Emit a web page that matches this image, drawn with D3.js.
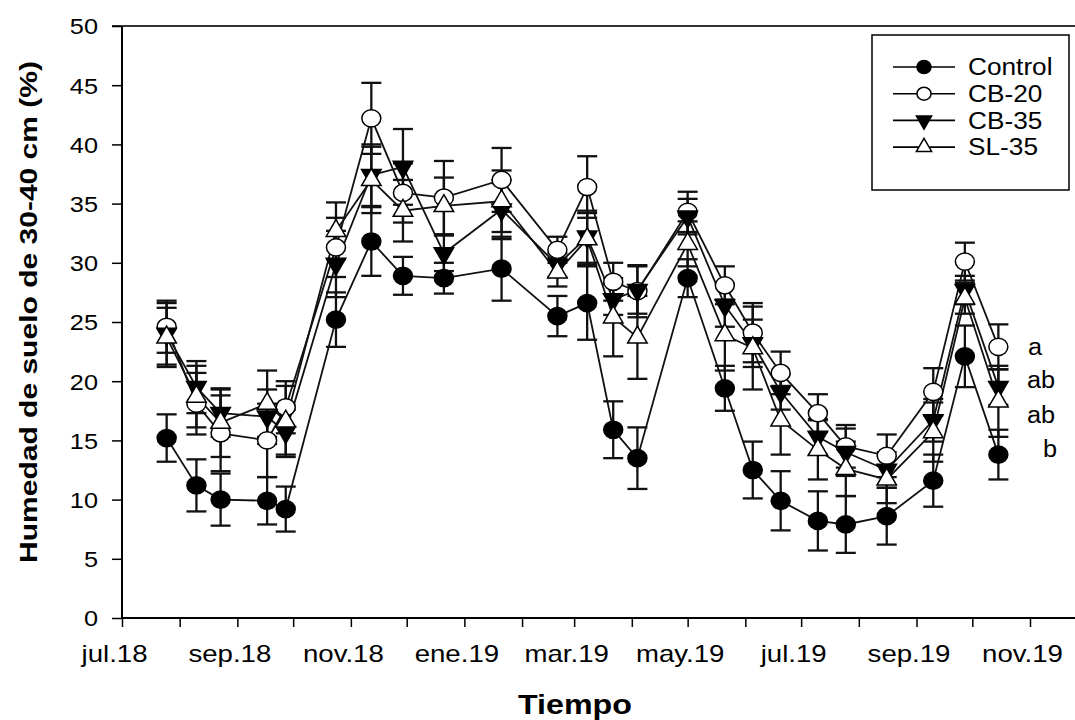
<!DOCTYPE html>
<html lang="es">
<head>
<meta charset="utf-8">
<title>Humedad de suelo 30-40 cm</title>
<script src="https://cdn.jsdelivr.net/npm/d3@7/dist/d3.min.js"></script>
<style>
  body { margin: 0; background: #fff; }
  svg text { font-family: Arial, "Liberation Sans", sans-serif; fill: #000; }
</style>
</head>
<body>
<svg id="chart" width="1075" height="720"></svg>
<script>
// fechas de muestreo
var dates = ["2018-07-25", "2018-08-10", "2018-08-23", "2018-09-17", "2018-09-27", "2018-10-24",
  "2018-11-12", "2018-11-29", "2018-12-21", "2019-01-21", "2019-02-20", "2019-03-08",
  "2019-03-22", "2019-04-04", "2019-05-01", "2019-05-21", "2019-06-05", "2019-06-20",
  "2019-07-10", "2019-07-25", "2019-08-16", "2019-09-10", "2019-09-27", "2019-10-15"];

var control = [15.2, 11.2, 10.0, 9.9, 9.2, 25.2, 31.8, 28.9, 28.7, 29.5, 25.5, 26.6,
  15.9, 13.5, 28.7, 19.4, 12.5, 9.9, 8.2, 7.9, 8.6, 11.6, 22.1, 13.8];
var cb20 = [24.6, 18.1, 15.6, 15.0, 17.8, 31.3, 42.2, 35.9, 35.5, 37.0, 31.1, 36.4,
  28.4, 27.6, 34.3, 28.1, 24.1, 20.7, 17.3, 14.5, 13.7, 19.1, 30.1, 22.9];
var cb35 = [24.0, 19.5, 17.3, 17.0, 15.7, 29.9, 37.4, 38.1, 30.8, 34.5, 29.8, 32.2,
  26.9, 27.7, 33.9, 26.4, 23.2, 19.1, 15.3, 14.0, 12.5, 16.7, 27.7, 19.5];
var sl35 = [23.7, 18.7, 16.5, 18.1, 16.6, 32.7, 37.0, 34.4, 34.8, 35.2, 29.2, 32.0,
  25.4, 23.7, 31.6, 23.9, 22.8, 16.7, 14.2, 12.6, 11.7, 15.7, 27.0, 18.3];

// error estandar
var controlErr = [2.0, 2.2, 2.2, 2.0, 1.9, 2.3, 2.9, 1.6, 1.3, 2.7, 1.7, 3.1,
  2.4, 2.6, 1.6, 1.9, 2.4, 2.5, 2.5, 2.4, 2.4, 2.2, 2.6, 2.1];
var cb20Err = [2.2, 2.6, 3.2, 3.1, 2.2, 2.5, 3.0, 2.5, 3.1, 2.7, 1.1, 2.6,
  1.6, 2.2, 1.7, 1.6, 2.5, 1.8, 1.6, 1.8, 1.8, 2.0, 1.6, 1.9];
var cb35Err = [2.6, 2.2, 2.0, 2.3, 1.9, 2.8, 2.6, 3.2, 1.5, 2.5, 1.0, 2.2,
  1.3, 2.0, 1.5, 1.8, 2.0, 1.5, 1.5, 2.0, 1.5, 1.8, 1.2, 1.5];
var sl35Err = [2.5, 2.6, 2.9, 2.8, 3.0, 2.4, 2.8, 2.6, 2.4, 2.6, 1.2, 2.2,
  3.3, 3.5, 1.9, 3.0, 3.5, 2.9, 2.5, 2.3, 2.0, 2.5, 1.3, 3.0];

var seriesNames = ["Control", "CB-20", "CB-35", "SL-35"];
var letters = ["a", "ab", "ab", "b"];
var yTicks = [0, 5, 10, 15, 20, 25, 30, 35, 40, 45, 50];
var monthNames = ["ene", "feb", "mar", "abr", "may", "jun", "jul", "ago", "sep", "oct", "nov", "dic"];

var svg = d3.select("#chart");
var parse = d3.timeParse("%Y-%m-%d");

// make text a bit wider, like the original picture
function stretch(sel, k) {
  sel.each(function() {
    var w = this.getComputedTextLength();
    d3.select(this).attr("textLength", w * k).attr("lengthAdjust", "spacingAndGlyphs");
  });
}

var x0 = parse("2018-07-01"), x1 = parse("2019-11-01");
var x = d3.scaleTime().domain([x0, x1]).range([122, 1030]);
var xEnd = x.invert(1076);
var y = d3.scaleLinear().domain([0, 50]).range([618, 26]);

// frame top line + axes
svg.append("line").attr("x1", 112).attr("x2", 1075).attr("y1", y(50)).attr("y2", y(50))
  .attr("stroke", "#333").attr("stroke-width", 2);

var yAxis = svg.append("g").attr("transform", "translate(122,0)")
  .call(d3.axisLeft(y).tickValues(yTicks).tickSize(10).tickFormat(d3.format("d")));
yAxis.select(".domain").attr("stroke-width", 2).attr("d", "M0," + y(0) + "V" + y(50));
yAxis.selectAll(".tick line").attr("stroke-width", 1.5);
yAxis.selectAll(".tick text").attr("x", -24).attr("dy", "0.36em")
  .style("font-size", "22px");
stretch(yAxis.selectAll(".tick text"), 1.15);

var months = d3.timeMonth.range(x0, xEnd);
var xAxis = svg.append("g").attr("transform", "translate(0," + y(0) + ")")
  .call(d3.axisBottom(x).tickValues(months).tickSize(9).tickFormat(function(d, i) {
    if (i % 2) return "";
    return monthNames[d.getMonth()] + "." + d3.timeFormat("%y")(d);
  }));
xAxis.select(".domain").attr("stroke-width", 2).attr("d", "M122,0H1075");
xAxis.selectAll(".tick line").attr("stroke-width", 1.5);
xAxis.selectAll(".tick text").attr("y", 27).attr("dx", -8).style("font-size", "24px");
stretch(xAxis.selectAll(".tick text"), 1.15);

// titles
svg.append("text").attr("x", 575).attr("y", 714).attr("text-anchor", "middle")
  .style("font-size", "28px").style("font-weight", "bold").text("Tiempo")
  .attr("textLength", 114).attr("lengthAdjust", "spacingAndGlyphs");
svg.append("text").attr("transform", "translate(37,312) rotate(-90)").attr("text-anchor", "middle")
  .style("font-size", "24px").style("font-weight", "bold")
  .text("Humedad de suelo de 30-40 cm (%)")
  .attr("textLength", 502).attr("lengthAdjust", "spacingAndGlyphs");

var parsed = dates.map(parse);
var series = [
  { name: seriesNames[0], vals: control, err: controlErr, shape: "circle", fill: "#000" },
  { name: seriesNames[1], vals: cb20, err: cb20Err, shape: "circle", fill: "#fff" },
  { name: seriesNames[2], vals: cb35, err: cb35Err, shape: "down", fill: "#000" },
  { name: seriesNames[3], vals: sl35, err: sl35Err, shape: "up", fill: "#fff" }
];
series.forEach(function(s) {
  s.pts = parsed.map(function(d, i) { return { date: d, v: s.vals[i], e: s.err[i] }; });
});

var line = d3.line().x(function(d) { return x(d.date); }).y(function(d) { return y(d.v); });
var plot = svg.append("g");

function drawMarker(g, shape, fill, big) {
  if (shape == "circle") {
    g.append("ellipse").attr("rx", big ? 9.5 : 7).attr("ry", big ? 8.6 : 6.5)
      .attr("fill", fill).attr("stroke", "#000").attr("stroke-width", 1.5);
  } else {
    var p = g.append("path").attr("d", d3.symbol(d3.symbolTriangle, big ? 165 : 100)())
      .attr("fill", fill).attr("stroke", "#000").attr("stroke-width", 1.5);
    if (shape == "down") p.attr("transform", "rotate(180)");
  }
}

series.forEach(function(s) {
  plot.append("path").datum(s.pts).attr("d", line)
    .attr("fill", "none").attr("stroke", "#111").attr("stroke-width", 1.8);
});

series.forEach(function(s) {
  var eb = plot.append("g").selectAll("g").data(s.pts).join("g")
    .attr("stroke", "#111").attr("stroke-width", 2.3);
  eb.append("line").attr("x1", function(d) { return x(d.date); }).attr("x2", function(d) { return x(d.date); })
    .attr("y1", function(d) { return y(d.v + d.e); }).attr("y2", function(d) { return y(d.v - d.e); });
  eb.append("line").attr("x1", function(d) { return x(d.date) - 10; }).attr("x2", function(d) { return x(d.date) + 10; })
    .attr("y1", function(d) { return y(d.v + d.e); }).attr("y2", function(d) { return y(d.v + d.e); });
  eb.append("line").attr("x1", function(d) { return x(d.date) - 10; }).attr("x2", function(d) { return x(d.date) + 10; })
    .attr("y1", function(d) { return y(d.v - d.e); }).attr("y2", function(d) { return y(d.v - d.e); });
});

series.forEach(function(s) {
  plot.append("g").selectAll("g").data(s.pts).join("g")
    .attr("transform", function(d) { return "translate(" + x(d.date) + "," + y(d.v) + ")"; })
    .each(function() { drawMarker(d3.select(this), s.shape, s.fill, true); });
});

// letras de significancia, al lado del ultimo punto
var letterY = [22.9, 20.1, 17.2, 14.3];
var letterX = [1028, 1027, 1027, 1043];
letters.forEach(function(l, i) {
  var t = svg.append("text").attr("x", letterX[i]).attr("y", y(letterY[i])).attr("dy", "0.36em")
    .style("font-size", "23px").text(l);
  stretch(t, 1.1);
});

// leyenda
var leg = svg.append("g");
leg.append("rect").attr("x", 872).attr("y", 35).attr("width", 197).attr("height", 155)
  .attr("fill", "#fff").attr("stroke", "#000").attr("stroke-width", 1.5);
series.forEach(function(s, i) {
  var ly = 67 + i * 26.7;
  leg.append("line").attr("x1", 893).attr("x2", 955).attr("y1", ly).attr("y2", ly)
    .attr("stroke", "#000").attr("stroke-width", 1.6);
  drawMarker(leg.append("g").attr("transform", "translate(924," + ly + ")"), s.shape, s.fill, false);
  var t = leg.append("text").attr("x", 968).attr("y", ly).attr("dy", "0.36em")
    .style("font-size", "23px").text(s.name);
  stretch(t, 1.14);
});
</script>
</body>
</html>
